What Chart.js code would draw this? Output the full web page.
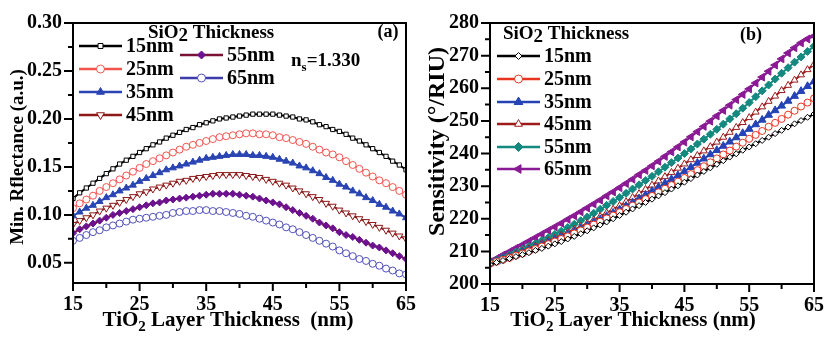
<!DOCTYPE html>
<html>
<head>
<meta charset="utf-8">
<script src="https://cdn.jsdelivr.net/npm/chart.js@4.4.0/dist/chart.umd.min.js"></script>
<style>
  html, body { margin: 0; padding: 0; background: #fff; }
  #wrap { position: relative; width: 834px; height: 338px; overflow: hidden; }
  .panel { position: absolute; top: 0; height: 338px; }
  #panelA { left: 0; width: 426px; }
  #panelB { left: 417px; width: 417px; }
</style>
</head>
<body>
<div id="wrap">
  <div class="panel" id="panelA"><canvas id="chartA"></canvas></div>
  <div class="panel" id="panelB"><canvas id="chartB"></canvas></div>
</div>
<script>
// TiO2 layer thickness (nm), shared x values
const thickness = [15,16,17,18,19,20,21,22,23,24,25,26,27,28,29,30,31,32,33,34,35,36,37,38,39,40,
  41,42,43,44,45,46,47,48,49,50,51,52,53,54,55,56,57,58,59,60,61,62,63,64,65];
const sio2Labels = ["15nm", "25nm", "35nm", "45nm", "55nm", "65nm"];

// (a) minimum reflectance
const reflect15 = [0.117,0.123,0.128,0.133,0.138,0.143,0.148,0.153,0.157,0.161,0.165,0.169,0.173,0.176,0.180,0.183,0.186,0.189,0.191,0.194,0.196,0.198,0.200,0.201,0.202,0.203,0.204,0.205,0.205,0.205,0.205,0.204,0.203,0.202,0.200,0.199,0.197,0.194,0.192,0.189,0.187,0.184,0.180,0.177,0.173,0.169,0.165,0.161,0.156,0.152,0.147];
const reflect25 = [0.107,0.112,0.116,0.120,0.125,0.129,0.133,0.137,0.141,0.145,0.149,0.153,0.156,0.159,0.162,0.165,0.168,0.171,0.173,0.175,0.177,0.179,0.181,0.182,0.183,0.184,0.185,0.185,0.184,0.184,0.183,0.181,0.180,0.178,0.176,0.174,0.171,0.168,0.165,0.163,0.160,0.156,0.152,0.148,0.144,0.140,0.136,0.133,0.129,0.125,0.121];
const reflect35 = [0.099,0.103,0.107,0.110,0.114,0.118,0.121,0.125,0.128,0.131,0.135,0.138,0.141,0.144,0.147,0.149,0.151,0.153,0.155,0.157,0.159,0.160,0.161,0.162,0.163,0.163,0.163,0.162,0.162,0.161,0.160,0.158,0.156,0.154,0.151,0.149,0.146,0.143,0.139,0.136,0.132,0.129,0.125,0.122,0.118,0.115,0.111,0.108,0.104,0.101,0.097];
const reflect45 = [0.090,0.094,0.097,0.100,0.104,0.107,0.110,0.113,0.116,0.119,0.122,0.124,0.127,0.129,0.131,0.133,0.135,0.136,0.138,0.139,0.140,0.141,0.142,0.142,0.142,0.142,0.141,0.140,0.139,0.137,0.135,0.133,0.131,0.128,0.125,0.122,0.119,0.116,0.112,0.109,0.105,0.102,0.099,0.096,0.093,0.090,0.087,0.084,0.081,0.078,0.075];
const reflect55 = [0.081,0.085,0.088,0.091,0.094,0.097,0.100,0.102,0.104,0.106,0.108,0.110,0.112,0.113,0.115,0.116,0.117,0.118,0.119,0.120,0.121,0.122,0.122,0.122,0.122,0.121,0.120,0.119,0.117,0.115,0.113,0.111,0.108,0.105,0.102,0.099,0.096,0.092,0.089,0.086,0.082,0.079,0.077,0.074,0.071,0.068,0.066,0.063,0.060,0.057,0.054];
const reflect65 = [0.073,0.076,0.079,0.082,0.084,0.087,0.089,0.091,0.093,0.095,0.096,0.097,0.098,0.099,0.100,0.102,0.103,0.104,0.104,0.105,0.105,0.104,0.104,0.103,0.102,0.101,0.099,0.098,0.096,0.094,0.092,0.090,0.087,0.085,0.082,0.079,0.076,0.073,0.070,0.067,0.063,0.060,0.057,0.054,0.052,0.049,0.047,0.044,0.042,0.039,0.038];

// (b) sensitivity (deg/RIU)
const sens15 = [206.0,206.6,207.2,207.8,208.4,209.0,209.6,210.3,210.9,211.6,212.3,213.0,213.8,214.6,215.4,216.3,217.2,218.1,219.0,220.0,221.0,222.0,223.0,224.0,225.0,226.0,227.0,228.0,229.1,230.1,231.2,232.3,233.4,234.5,235.6,236.7,237.8,238.9,239.9,241.0,242.0,243.0,244.0,245.0,246.1,247.1,248.1,249.1,250.1,251.1,252.1];
const sens25 = [206.2,206.8,207.4,208.0,208.7,209.3,210.0,210.7,211.5,212.2,213.0,213.8,214.6,215.5,216.4,217.3,218.2,219.1,220.1,221.0,222.0,223.0,224.0,225.0,226.0,227.0,228.1,229.2,230.3,231.4,232.5,233.7,234.9,236.1,237.3,238.5,239.7,240.9,242.1,243.3,244.5,245.7,246.9,248.2,249.4,250.6,251.9,253.1,254.4,255.6,256.9];
const sens35 = [206.3,206.9,207.6,208.2,208.9,209.6,210.3,211.1,211.9,212.7,213.5,214.4,215.2,216.1,217.0,217.9,218.9,219.8,220.8,221.8,222.8,223.9,225.0,226.2,227.3,228.5,229.7,230.9,232.1,233.3,234.5,235.8,237.1,238.4,239.7,241.0,242.3,243.6,244.9,246.2,247.5,248.9,250.3,251.8,253.2,254.6,256.1,257.6,259.1,260.6,262.1];
const sens45 = [206.4,207.1,207.8,208.5,209.3,210.0,210.8,211.6,212.4,213.2,214.0,214.9,215.8,216.7,217.6,218.6,219.6,220.7,221.8,222.9,224.0,225.2,226.5,227.7,229.0,230.3,231.6,232.9,234.2,235.5,236.8,238.1,239.4,240.8,242.1,243.5,245.0,246.5,248.0,249.5,251.0,252.7,254.3,256.0,257.6,259.3,260.9,262.5,264.1,265.7,267.3];
const sens55 = [206.5,207.3,208.1,208.9,209.8,210.6,211.5,212.4,213.3,214.2,215.2,216.2,217.3,218.3,219.4,220.5,221.7,222.9,224.1,225.3,226.5,227.8,229.1,230.4,231.7,233.0,234.4,235.8,237.2,238.6,240.0,241.4,242.9,244.4,245.9,247.4,249.0,250.6,252.2,253.9,255.6,257.4,259.2,261.0,262.8,264.6,266.3,268.0,269.6,271.3,272.9];
const sens65 = [206.8,207.8,208.9,209.9,211.0,212.0,213.1,214.2,215.3,216.4,217.5,218.6,219.8,220.9,222.1,223.3,224.5,225.7,227.0,228.2,229.5,230.8,232.1,233.5,234.8,236.2,237.6,239.1,240.5,242.0,243.5,245.1,246.7,248.3,249.9,251.5,253.2,254.8,256.5,258.1,259.8,261.6,263.4,265.2,267.1,269.0,270.8,272.4,273.9,275.1,276.0];

// tick values
const xTicks = [15, 25, 35, 45, 55, 65];
const xMinor = [20, 30, 40, 50, 60];
const yTicksA = [0.05, 0.10, 0.15, 0.20, 0.25, 0.30];
const yMinorA = [0.075, 0.125, 0.175, 0.225, 0.275];
const yTicksB = [200, 210, 220, 230, 240, 250, 260, 270, 280];
const yMinorB = [205, 215, 225, 235, 245, 255, 265, 275];

const SERIF = '"Liberation Serif", "DejaVu Serif", serif';
const font = (px) => `bold ${px}px ${SERIF}`;

// marker / line styles for each series
const stylesA = [
  { line: "#000000", mark: "#000000", fill: "#ffffff", shape: "rect", rot: 0, r: 3 },
  { line: "#f2534d", mark: "#f2534d", fill: "#ffffff", shape: "circle", rot: 0, r: 3.5 },
  { line: "#2a45b3", mark: "#2a45b3", fill: "#2a45b3", shape: "triangle", rot: 0, r: 4 },
  { line: "#8c1818", mark: "#8c1818", fill: "#ffffff", shape: "triangle", rot: 180, r: 4 },
  { line: "#7a1238", mark: "#6c1290", fill: "#6c1290", shape: "rectRot", rot: 0, r: 3.5 },
  { line: "#3c3cab", mark: "#5050b8", fill: "#ffffff", shape: "circle", rot: 0, r: 3.5 },
];
const stylesB = [
  { line: "#000000", mark: "#000000", fill: "#ffffff", shape: "rectRot", rot: 0, r: 3 },
  { line: "#e8341f", mark: "#e8341f", fill: "#ffffff", shape: "circle", rot: 0, r: 3.5 },
  { line: "#2643b5", mark: "#2643b5", fill: "#2643b5", shape: "triangle", rot: 0, r: 4.5 },
  { line: "#9c1c1c", mark: "#9c1c1c", fill: "#ffffff", shape: "triangle", rot: 0, r: 4 },
  { line: "#14897f", mark: "#14897f", fill: "#14897f", shape: "rectRot", rot: 0, r: 4 },
  { line: "#8a1a94", mark: "#8a1a94", fill: "#8a1a94", shape: "triangle", rot: -90, r: 4.5 },
];

function makeDatasets(seriesList, styles) {
  return seriesList.map((data, i) => {
    const s = styles[i];
    return {
      label: sio2Labels[i],
      data: data,
      borderColor: s.line,
      borderWidth: 2,
      pointStyle: s.shape,
      pointRotation: s.rot,
      pointRadius: s.r,
      pointBorderWidth: 1,
      pointBorderColor: s.mark,
      pointBackgroundColor: s.fill,
      tension: 0,
    };
  });
}

// text with optional subscript parts; y is the baseline
function drawRich(ctx, parts, x, y, align) {
  let total = 0;
  parts.forEach((p) => {
    ctx.font = font(p.size);
    p.w = ctx.measureText(p.t).width;
    total += p.w;
  });
  let cx = align === "center" ? x - total / 2 : x;
  ctx.textAlign = "left";
  ctx.textBaseline = "alphabetic";
  parts.forEach((p) => {
    ctx.font = font(p.size);
    ctx.fillText(p.t, cx, y + (p.dy || 0));
    cx += p.w;
  });
}

function drawMarker(ctx, s, x, y) {
  ctx.save();
  ctx.fillStyle = s.fill;
  ctx.strokeStyle = s.mark;
  ctx.lineWidth = 1;
  Chart.helpers.drawPoint(ctx, { pointStyle: s.shape, rotation: s.rot, radius: s.r + 0.5, borderWidth: 1 }, x, y);
  ctx.restore();
}

// box, ticks, titles, legend, annotations
const framePlugin = {
  id: "frame",
  afterDraw(chart, args, o) {
    const { ctx, chartArea: a } = chart;
    const xs = chart.scales.x, ys = chart.scales.y;
    ctx.save();
    ctx.strokeStyle = "#000";
    ctx.lineWidth = 2;
    ctx.strokeRect(a.left, a.top, a.right - a.left, a.bottom - a.top);

    ctx.beginPath();
    xTicks.forEach((v) => { const p = xs.getPixelForValue(v); ctx.moveTo(p, a.bottom); ctx.lineTo(p, a.bottom + 8); });
    xMinor.forEach((v) => { const p = xs.getPixelForValue(v); ctx.moveTo(p, a.bottom); ctx.lineTo(p, a.bottom + 5); });
    o.yMajor.forEach((v) => { const p = ys.getPixelForValue(v); ctx.moveTo(a.left, p); ctx.lineTo(a.left - 9, p); });
    o.yMinor.forEach((v) => { const p = ys.getPixelForValue(v); ctx.moveTo(a.left, p); ctx.lineTo(a.left - 5, p); });
    ctx.stroke();

    ctx.fillStyle = "#000";
    // x title
    drawRich(ctx, [
      { t: "TiO", size: 21 },
      { t: "2", size: 15, dy: 5 },
      { t: o.xTitleRest, size: 21 },
    ], o.xTitleX, o.xTitleY, "center");

    // y title (rotated)
    ctx.save();
    ctx.translate(o.yTitleX, (a.top + a.bottom) / 2 + o.yTitleDy);
    ctx.rotate(-Math.PI / 2);
    ctx.font = font(o.yTitleSize);
    ctx.textAlign = "center";
    ctx.textBaseline = "middle";
    ctx.fillText(o.yTitle, 0, 0);
    ctx.restore();

    // legend title
    drawRich(ctx, [
      { t: "SiO", size: 19 },
      { t: "2", size: 19, dy: 3 },
      { t: " Thickness", size: 19 },
    ], o.legTitle[0], o.legTitle[1], "left");

    // legend entries
    o.legend.forEach((e, i) => {
      const s = o.styles[i];
      ctx.strokeStyle = s.line;
      ctx.lineWidth = 2.5;
      ctx.beginPath();
      ctx.moveTo(e.x, e.y);
      ctx.lineTo(e.x + 43, e.y);
      ctx.stroke();
      drawMarker(ctx, s, e.x + 21.5, e.y);
      ctx.fillStyle = "#000";
      ctx.font = font(20);
      ctx.textAlign = "left";
      ctx.textBaseline = "middle";
      ctx.fillText(sio2Labels[i], e.x + 47, e.y + 1);
    });

    // panel tag
    ctx.font = font(18);
    ctx.textAlign = "center";
    ctx.textBaseline = "middle";
    ctx.fillText(o.tag[0], o.tag[1], o.tag[2]);

    if (o.note) {
      drawRich(ctx, [
        { t: "n", size: 19 },
        { t: "s", size: 13, dy: 5 },
        { t: "=1.330", size: 19 },
      ], o.note[0], o.note[1], "left");
    }
    ctx.restore();
  },
};

function makeChart(id, datasets, yMin, yMax, yMajor, yFmt, pad, xHeight, frameOpts) {
  return new Chart(document.getElementById(id), {
    type: "line",
    data: { labels: thickness, datasets },
    options: {
      responsive: true,
      maintainAspectRatio: false,
      animation: false,
      layout: { padding: pad },
      plugins: { legend: { display: false }, tooltip: { enabled: false }, frame: frameOpts },
      scales: {
        x: {
          type: "linear",
          min: 15,
          max: 65,
          afterBuildTicks: (s) => { s.ticks = xTicks.map((v) => ({ value: v })); },
          afterFit: (s) => { s.height = xHeight; },
          grid: { display: false, drawTicks: false },
          border: { display: true, color: "#000", width: 2 },
          ticks: { color: "#000", font: { family: SERIF, size: 20, weight: "bold" }, padding: 10, maxRotation: 0 },
        },
        y: {
          min: yMin,
          max: yMax,
          afterBuildTicks: (s) => { s.ticks = yMajor.map((v) => ({ value: v })); },
          afterFit: (s) => { s.width = 73; },
          grid: { display: false, drawTicks: false },
          border: { display: true, color: "#000", width: 2 },
          ticks: { color: "#000", font: { family: SERIF, size: 20, weight: "bold" }, padding: 11, callback: yFmt },
        },
      },
    },
    plugins: [framePlugin],
  });
}

function pairs(vals) { return thickness.map((x, i) => ({ x: x, y: vals[i] })); }

makeChart(
  "chartA",
  makeDatasets([reflect15, reflect25, reflect35, reflect45, reflect55, reflect65].map(pairs), stylesA),
  0.029, 0.30, yTicksA, (v) => Number(v).toFixed(2),
  { top: 15, right: 17, left: 0, bottom: 0 }, 55,
  {
    yMajor: yTicksA, yMinor: yMinorA,
    xTitleRest: " Layer Thickness  (nm)", xTitleX: 228, xTitleY: 326,
    yTitle: "Min. Rflectance (a.u.)", yTitleX: 18, yTitleDy: 4, yTitleSize: 19,
    legTitle: [148, 38],
    styles: stylesA,
    legend: [
      { x: 79, y: 46 }, { x: 79, y: 69 }, { x: 79, y: 92 }, { x: 79, y: 115 },
      { x: 180, y: 55 }, { x: 180, y: 78 },
    ],
    tag: ["(a)", 388, 32],
    note: [291, 66],
  }
);

makeChart(
  "chartB",
  makeDatasets([sens15, sens25, sens35, sens45, sens55, sens65].map(pairs), stylesB),
  200, 280, yTicksB, (v) => String(v),
  { top: 17, right: 10, left: 0, bottom: 0 }, 54,
  {
    yMajor: yTicksB, yMinor: yMinorB,
    xTitleRest: " Layer Thickness (nm)", xTitleX: 633 - 417, xTitleY: 326,
    yTitle: "Sensitivity (\u00B0/RIU)", yTitleX: 21, yTitleDy: -12, yTitleSize: 24,
    legTitle: [503 - 417, 39],
    styles: stylesB,
    legend: [
      { x: 497 - 417, y: 56 }, { x: 497 - 417, y: 79 }, { x: 497 - 417, y: 102 },
      { x: 497 - 417, y: 124 }, { x: 497 - 417, y: 147 }, { x: 497 - 417, y: 169 },
    ],
    tag: ["(b)", 751 - 417, 35],
    note: null,
  }
);
</script>
</body>
</html>
